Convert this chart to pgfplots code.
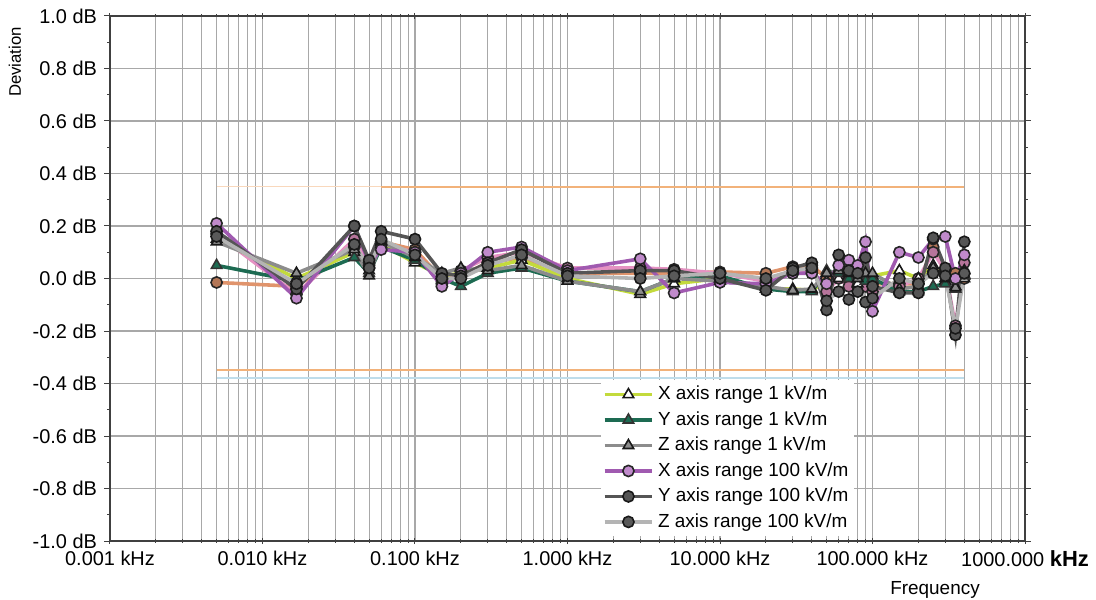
\documentclass[border=0pt]{standalone}
\usepackage{pgfplots}
\usepackage{pgfplotstable}
\usepackage{fontspec}
\setmainfont{Liberation Sans}
\pgfplotsset{compat=1.18}
\definecolor{cX1}{HTML}{C3DA3C}
\definecolor{cY1}{HTML}{1D6B52}
\definecolor{cZ1}{HTML}{8C8C8C}
\definecolor{cX100}{HTML}{A05AB0}
\definecolor{cX100f}{HTML}{C08ACB}
\definecolor{cY100}{HTML}{555555}
\definecolor{cZ100}{HTML}{B4B4B4}
\definecolor{cP}{HTML}{E592C2}
\definecolor{cO}{HTML}{E0946C}
\definecolor{lim}{HTML}{F2B27A}
\definecolor{limb}{HTML}{BFDDEB}
\definecolor{gridc}{HTML}{A8A8A8}

\pgfplotstableread{
f      X1     Y1     Z1     X100   Y100   Z100   P      O
0.005  0.15   0.05   0.14   0.21   0.18   0.16   0.17   -0.015
0.0167 0.0    -0.01  0.02   -0.075 -0.04  -0.02  -0.06  -0.03
0.04   0.10   0.08   0.11   0.20   0.20   0.13   0.15   0.12
0.05   0.03   0.02   0.01   0.06   0.07   0.04   0.05   0.04
0.06   0.13   0.12   0.14   0.11   0.18   0.15   0.13   0.14
0.1    0.06   0.07   0.08   0.10   0.15   0.09   0.10   0.11
0.15   0.01   0.0    0.02   -0.03  0.02   0.0    -0.02  0.0
0.2    0.02   -0.03  0.04   0.02   0.01   0.0    0.03   0.01
0.3    0.04   0.02   0.03   0.10   0.06   0.05   0.08   0.06
0.5    0.07   0.04   0.05   0.12   0.11   0.09   0.10   0.08
1      0.0    -0.01  -0.01  0.03   0.02   0.01   0.04   0.02
3      -0.06  -0.05  -0.05  0.075  0.03   0.0    0.04   0.02
5      -0.02  0.0    0.0    -0.055 0.03   0.01   0.035  0.02
10     0.0    0.01   -0.01  -0.015 0.0    0.02   0.02   0.025
20     -0.04  -0.04  -0.03  -0.02  -0.045 0.0    -0.01  0.02
30     -0.04  -0.05  -0.045 0.02   0.04   0.03   0.02   0.045
40     -0.045 -0.05  -0.04  0.02   0.06   0.04   0.03   0.05
50     -0.01  0.03   0.02   -0.02  -0.12  -0.085 -0.05  0.0
60     0.0    0.02   0.03   0.05   0.09   -0.05  0.0    0.02
70     0.01   0.0    0.02   0.07   0.03   -0.08  -0.03  0.0
80     -0.02  0.01   0.0    0.05   -0.05  0.02   -0.03  0.0
90     0.0    -0.01  0.02   0.14   0.08   -0.09  -0.03  0.0
100    0.01   0.0    0.02   -0.125 -0.03  -0.075 -0.05  -0.02
150    0.03   -0.05  -0.04  0.10   -0.055 0.0    -0.03  -0.02
200    0.0    -0.05  -0.03  0.08   -0.055 -0.02  0.0    -0.02
250    0.05   -0.03  0.04   0.15   0.155  0.02   0.10   0.12
300    -0.01  -0.02  0.0    0.16   0.04   0.01   0.03   0.02
350    -0.03  -0.04  -0.035 0.0    -0.215 -0.19  -0.18  0.02
400    0.0    0.01   0.03   0.09   0.14   0.02   0.06   0.0
}\devdata

\begin{document}
\begin{tikzpicture}
\begin{axis}[
  scale only axis, width=457.5bp, height=262.5bp,
  xmode=log, xmin=0.001, xmax=1000, ymin=-1, ymax=1,
  xtick={0.001,0.01,0.1,1,10,100,1000},
  xticklabels={0.001 kHz,0.010 kHz,0.100 kHz,1.000 kHz,10.000 kHz,100.000 kHz,{1000.000 \textbf{\fontsize{11}{12}\selectfont kHz}}},
  ytick={-1,-0.8,-0.6,-0.4,-0.2,0,0.2,0.4,0.6,0.8,1},
  yticklabels={-1.0 dB,-0.8 dB,-0.6 dB,-0.4 dB,-0.2 dB,0.0 dB,0.2 dB,0.4 dB,0.6 dB,0.8 dB,1.0 dB},
  minor ytick={-0.9,-0.7,-0.5,-0.3,-0.1,0.1,0.3,0.5,0.7,0.9},
  xmajorgrids, xminorgrids, ymajorgrids,
  major grid style={gridc, line width=0.6pt},
  minor grid style={gridc, line width=0.5pt},
  axis line style={black!75, line width=0.7pt},
  tick style={black!75, line width=0.5pt},
  ytick align=outside, major tick length=3bp, minor tick length=1.5bp,
  xtick align=center,
  tick label style={font=\fontsize{10}{12}\selectfont},
  legend style={at={(0.536,0.307)}, anchor=north west, draw=none, fill=white,
    font=\fontsize{9.5}{11}\selectfont, row sep=0.4pt, inner sep=1pt},
  legend cell align=left,
  legend image code/.code={\draw[mark repeat=2,mark phase=2,#1] plot coordinates {(0cm,0cm)(0.42cm,0cm)(0.84cm,0cm)};},
]
% limit lines
\addplot[lim, line width=0.9pt, forget plot] coordinates {(0.06,0.35)(400,0.35)};
\addplot[lim!50, line width=0.6pt, forget plot] coordinates {(0.005,0.35)(0.06,0.35)};
\addplot[lim, line width=0.9pt, forget plot] coordinates {(0.005,-0.35)(400,-0.35)};
\addplot[limb, line width=0.9pt, forget plot] coordinates {(0.005,-0.38)(400,-0.38)};
% extra traces
\addplot[cO, line width=1.8pt, mark=*, mark size=2.8bp, mark options={fill=cO!80!black, draw=black!85, line width=0.8pt}, forget plot] table[x=f,y=O] {\devdata};
\addplot[cP, line width=1.8pt, mark=*, mark size=2.8bp, mark options={fill=cP!80!black, draw=black!85, line width=0.8pt}, forget plot] table[x=f,y=P] {\devdata};
% legend traces
\addplot[cX1, line width=1.8pt, mark=triangle*, mark size=3bp, mark options={fill=white, draw=black!90, line width=0.8pt}] table[x=f,y=X1] {\devdata};
\addlegendentry{X axis range 1 kV/m}
\addplot[cY1, line width=1.8pt, mark=triangle*, mark size=3bp, mark options={fill=cY1, draw=black!80, line width=0.8pt}] table[x=f,y=Y1] {\devdata};
\addlegendentry{Y axis range 1 kV/m}
\addplot[cZ1, line width=1.8pt, mark=triangle*, mark size=3bp, mark options={fill=cZ1, draw=black!90, line width=0.8pt}] table[x=f,y=Z1] {\devdata};
\addlegendentry{Z axis range 1 kV/m}
\addplot[cX100, line width=1.8pt, mark=*, mark size=2.8bp, mark options={fill=cX100f, draw=black!85, line width=0.8pt}] table[x=f,y=X100] {\devdata};
\addlegendentry{X axis range 100 kV/m}
\addplot[cY100, line width=1.8pt, mark=*, mark size=2.8bp, mark options={fill=cY100, draw=black!90, line width=0.8pt}] table[x=f,y=Y100] {\devdata};
\addlegendentry{Y axis range 100 kV/m}
\addplot[cZ100, line width=1.8pt, mark=*, mark size=2.8bp, mark options={fill=black!65, draw=black!90, line width=0.8pt}] table[x=f,y=Z100] {\devdata};
\addlegendentry{Z axis range 100 kV/m}
\end{axis}
\node[rotate=90, font=\fontsize{8.4}{10}\selectfont] at (-47.5bp,239.5bp) {Deviation};
\node[font=\fontsize{9.5}{11}\selectfont] at (412.5bp,-24.5bp) {Frequency};
\pgfresetboundingbox
\useasboundingbox (-55bp,-29.5bp) rectangle (493bp,270.5bp);
\end{tikzpicture}
\end{document}
